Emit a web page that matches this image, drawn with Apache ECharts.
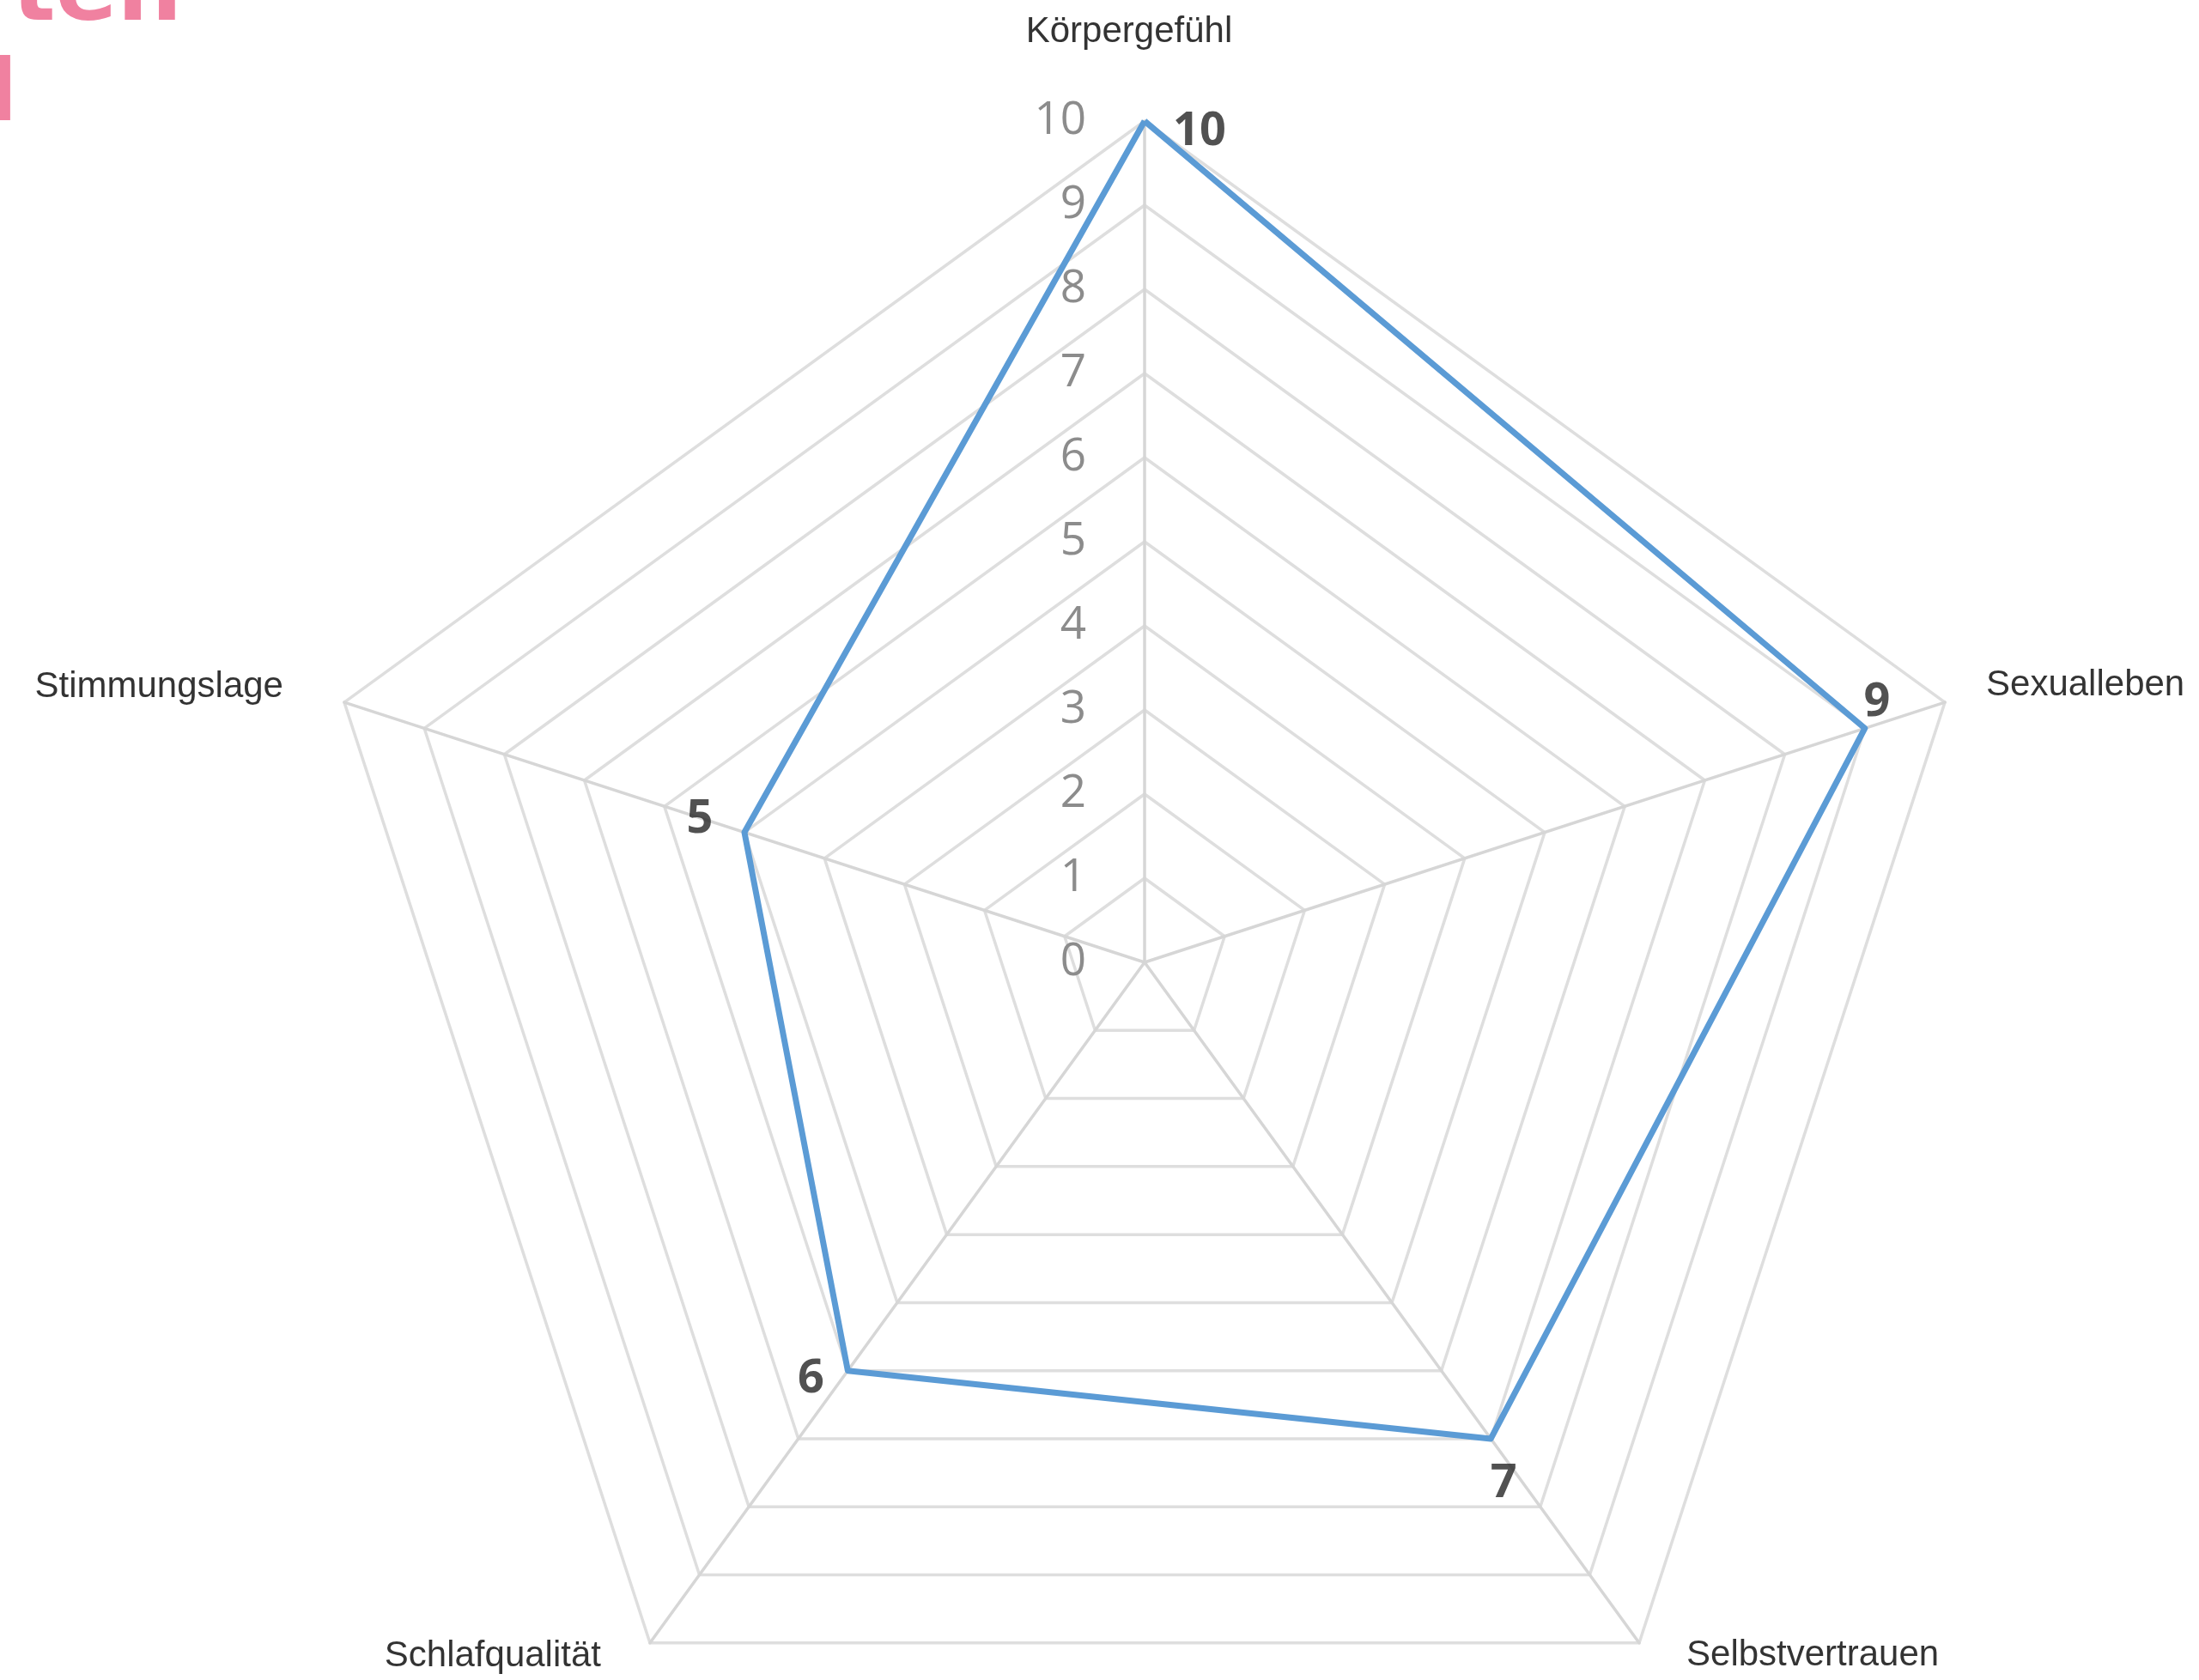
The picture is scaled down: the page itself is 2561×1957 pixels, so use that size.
<!DOCTYPE html>
<html><head><meta charset="utf-8">
<script src="https://cdn.jsdelivr.net/npm/echarts@6/dist/echarts.min.js"></script>
<style>html,body{margin:0;padding:0;background:#fff}#c{width:2561px;height:1957px}</style>
</head><body><div id="c"></div>
<script>
// Indicators in counter-clockwise order starting at the top
const categories = ['Körpergefühl', 'Stimmungslage', 'Schlafqualität', 'Selbstvertrauen', 'Sexualleben'];
const values = [10, 5, 6, 7, 9];
const axisMin = 0;
const axisMax = 10;
const axisSplits = 10;

// layout / style constants (not data)
const CX = 1333, CY = 1121, R = 980;
const dataLabelOffsets = [[64, 13], [-52, -15], [-43, 10], [15, 53], [14, -30]];
const nameLabelLayout = [
  {align: 'center', offset: [-18, -104]},
  {align: 'right', offset: [-71, -18]},
  {align: 'right', offset: [-57, 16]},
  {align: 'left', offset: [55, 15]},
  {align: 'left', offset: [48, -20]}
];

const chart = echarts.init(document.getElementById('c'), null, {renderer: 'canvas'});
chart.setOption({
  backgroundColor: '#ffffff',
  animation: false,
  graphic: [
    {type: 'text', x: 14, y: -5, silent: true,
     style: {text: 'ten', fill: '#F081A0', font: 'bold 106px "DejaVu Sans"', verticalAlign: 'middle'}},
    {type: 'text', x: -14, y: 114, silent: true,
     style: {text: 'l', fill: '#F081A0', font: 'bold 100px "DejaVu Sans"', verticalAlign: 'middle'}}
  ],
  radar: {
    center: [CX, CY],
    radius: R,
    startAngle: 90,
    shape: 'polygon',
    splitNumber: axisSplits,
    axisName: {show: false},
    indicator: categories.map((n, i) => {
      const o = {name: n, min: axisMin, max: axisMax};
      if (i === 0) {
        o.axisLabel = {show: true, color: '#8c8c8c', fontSize: 53, fontFamily: '"Open Sans"', margin: 68, padding: [10, 0, 0, 0]};
      }
      return o;
    }),
    splitLine: {lineStyle: {color: '#dedede', width: 3.5}},
    splitArea: {show: false},
    axisLine: {lineStyle: {color: '#d6d6d6', width: 3.5}},
    axisTick: {show: false},
    axisLabel: {show: false}
  },
  polar: {center: [CX, CY], radius: R},
  angleAxis: {type: 'value', min: 0, max: categories.length, startAngle: 90, clockwise: false, show: false},
  radiusAxis: {type: 'value', min: axisMin, max: axisMax, show: false},
  series: [
    {
      type: 'radar',
      symbol: 'none',
      silent: true,
      z: 3,
      lineStyle: {color: '#5B9BD5', width: 7, join: 'round'},
      data: [{value: values}]
    },
    {
      type: 'scatter',
      coordinateSystem: 'polar',
      symbolSize: 1,
      silent: true,
      z: 4,
      itemStyle: {color: 'rgba(0,0,0,0)'},
      data: values.map((v, i) => ({
        value: [v, i],
        label: {
          show: true, position: 'inside', formatter: String(v),
          offset: dataLabelOffsets[i], align: 'center', verticalAlign: 'middle',
          color: '#262626', fontSize: 54, fontWeight: 'bold', fontFamily: '"Open Sans"'
        }
      }))
    },
    {
      type: 'scatter',
      coordinateSystem: 'polar',
      symbolSize: 1,
      silent: true,
      z: 4,
      itemStyle: {color: 'rgba(0,0,0,0)'},
      data: categories.map((n, i) => ({
        value: [axisMax, i],
        label: {
          show: true, position: 'inside', formatter: n,
          offset: nameLabelLayout[i].offset, align: nameLabelLayout[i].align, verticalAlign: 'middle',
          color: '#000000', fontSize: 42, fontFamily: '"Liberation Sans"'
        }
      }))
    }
  ]
});
</script></body></html>
